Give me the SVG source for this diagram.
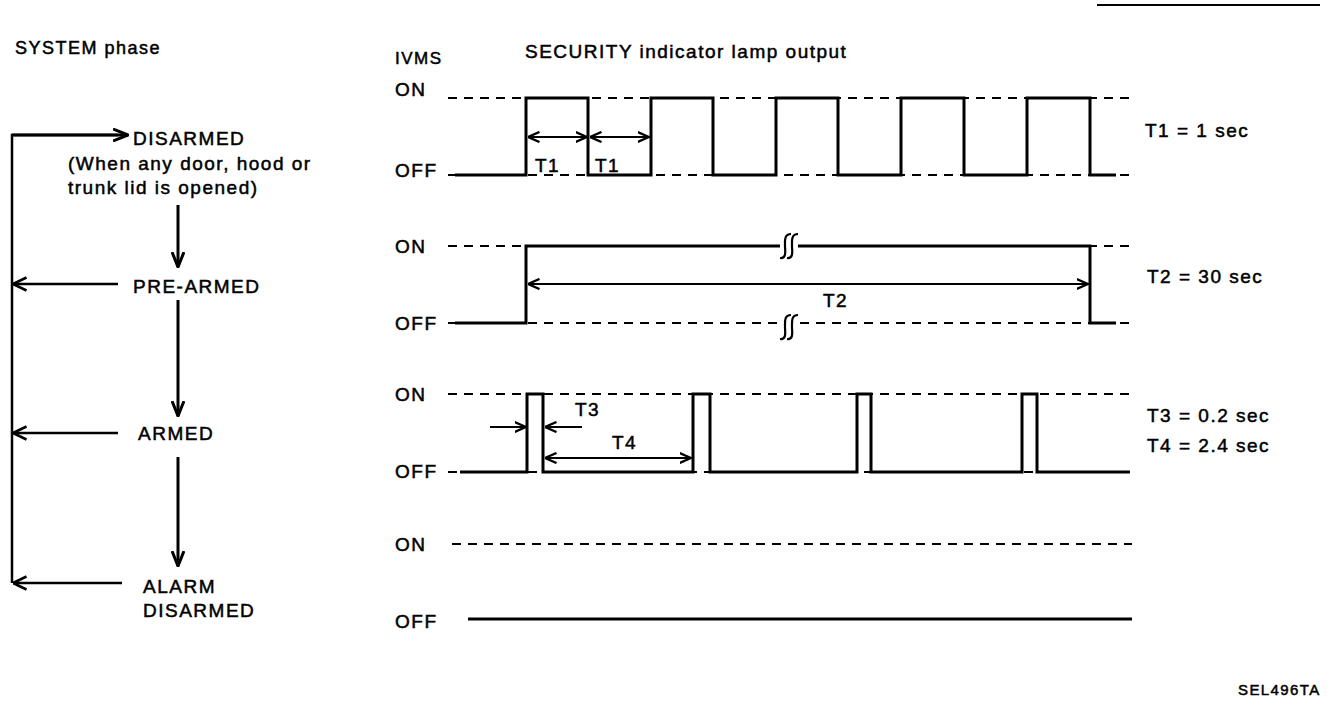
<svg xmlns="http://www.w3.org/2000/svg" width="1344" height="702" viewBox="0 0 1344 702">
<style>
text{font-family:"Liberation Sans",Arial,sans-serif;font-size:19px;letter-spacing:1.5px;fill:#000;stroke:#000;stroke-width:0.5}
.sm{font-size:17px}
.tiny{font-size:15px;letter-spacing:1.4px}
.ln{fill:none;stroke:#000;stroke-width:2.5}
.sig{fill:none;stroke:#000;stroke-width:3;stroke-linejoin:miter}
.dash{fill:none;stroke:#000;stroke-width:2;stroke-dasharray:9 7}
.ar{fill:none;stroke:#000;stroke-width:2.2;marker-end:url(#hd)}
.arB{fill:none;stroke:#000;stroke-width:2.4;marker-end:url(#hdB)}
.ar2{fill:none;stroke:#000;stroke-width:2.2;marker-start:url(#hd);marker-end:url(#hd)}
.arL{fill:none;stroke:#000;stroke-width:3;marker-end:url(#hdL)}
.brk{fill:none;stroke:#000;stroke-width:2.2}
</style>
<defs>
<marker id="hd" viewBox="0 0 12 12" refX="11.5" refY="6" markerWidth="12" markerHeight="12" markerUnits="userSpaceOnUse" orient="auto-start-reverse">
<path d="M0,1 L11.5,6 L0,11" fill="none" stroke="#000" stroke-width="2.4"/>
</marker>
<marker id="hdB" viewBox="0 0 14 16" refX="13.5" refY="8" markerWidth="14" markerHeight="16" markerUnits="userSpaceOnUse" orient="auto-start-reverse">
<path d="M0,1.5 L13.5,8 L0,14.5" fill="none" stroke="#000" stroke-width="2.5"/>
</marker>
<marker id="hdL" viewBox="0 0 16 14" refX="15" refY="7" markerWidth="16" markerHeight="14" markerUnits="userSpaceOnUse" orient="auto-start-reverse">
<path d="M0,1 L15,7 L0,13" fill="none" stroke="#000" stroke-width="3"/>
</marker>
</defs>
<rect width="1344" height="702" fill="#fff"/>
<line x1="1097" y1="5" x2="1320" y2="5" stroke="#000" stroke-width="2"/>
<text x="15" y="54" class="sm" style="font-size:18px">SYSTEM phase</text>

<g id="disarmed">
<text x="133" y="145">DISARMED</text>
<text x="68" y="170">(When any door, hood or</text>
<text x="68" y="194">trunk lid is opened)</text>
</g>
<g id="prearmed"><text x="133" y="293">PRE-ARMED</text></g>
<g id="armed"><text x="138" y="440">ARMED</text></g>
<g id="alarmdisarmed">
<text x="143" y="593">ALARM</text>
<text x="143" y="617">DISARMED</text>
</g>

<g id="connectors">
<path class="ln" d="M12,583 V135 H118"/>
<path class="arL" d="M12,135 H128"/>
<path class="arL" d="M178,205 V267"/>
<path class="arL" d="M178,300 V416"/>
<path class="arL" d="M178,457 V566"/>
<path class="arB" d="M118,284 H13"/>
<path class="arB" d="M118,433 H13"/>
<path class="arB" d="M122,583 H13"/>
</g>

<g id="header">
<text x="395" y="64" class="sm">IVMS</text>
<text x="525" y="58">SECURITY indicator lamp output</text>
</g>

<g id="row1">
<text x="395" y="96">ON</text>
<text x="395" y="177">OFF</text>
<line class="dash" x1="448" y1="98" x2="1132" y2="98"/>
<line class="dash" x1="448" y1="175" x2="1132" y2="175"/>
<path class="sig" d="M455,175 H526 V98 H588 V175 H651 V98 H713 V175 H776 V98 H838 V175 H901 V98 H964 V175 H1027 V98 H1090 V175 H1116"/>
<path class="ar2" d="M528,137 H587"/>
<path class="ar2" d="M590,137 H649"/>
<text x="535" y="172">T1</text>
<text x="595" y="172">T1</text>
<text x="1145" y="137">T1 = 1 sec</text>
</g>

<g id="row2">
<text x="395" y="253">ON</text>
<text x="395" y="330">OFF</text>
<line class="dash" x1="448" y1="246" x2="1132" y2="246"/>
<line class="dash" x1="448" y1="323" x2="1132" y2="323"/>
<path class="sig" d="M455,323 H526 V246 H1090 V323 H1116"/>
<rect x="780" y="240" width="18" height="12" fill="#fff"/>
<rect x="780" y="317" width="18" height="12" fill="#fff"/>
<path class="brk" d="M780,258 C787,259 785,250 785,246 C785,241 784,234 791,234 M787,258 C794,259 792,250 792,246 C792,241 791,234 798,234"/>
<path class="brk" d="M780,339 C787,340 785,331 785,327 C785,322 784,315 791,315 M787,339 C794,340 792,331 792,327 C792,322 791,315 798,315"/>
<path class="ar2" d="M528,284 H1088"/>
<text x="823" y="307">T2</text>
<text x="1147" y="283">T2 = 30 sec</text>
</g>

<g id="row3">
<text x="395" y="401">ON</text>
<text x="395" y="478">OFF</text>
<line class="dash" x1="448" y1="394" x2="1132" y2="394"/>
<line class="dash" x1="448" y1="472" x2="1132" y2="472"/>
<path class="sig" d="M460,472 H527 V394 H543 V472 H693 V394 H710 V472 H857 V394 H871 V472 H1022 V394 H1037 V472 H1130"/>
<path class="ar" d="M490,427 H526"/>
<path class="ar" d="M582,427 H545"/>
<path class="ar2" d="M545,458 H691"/>
<text x="575" y="416">T3</text>
<text x="612" y="449">T4</text>
<text x="1147" y="422">T3 = 0.2 sec</text>
<text x="1147" y="452">T4 = 2.4 sec</text>
</g>

<g id="row4">
<text x="395" y="551">ON</text>
<text x="395" y="628">OFF</text>
<line class="dash" x1="452" y1="544" x2="1132" y2="544"/>
<line x1="468" y1="619" x2="1132" y2="619" stroke="#000" stroke-width="3"/>
</g>

<text x="1238" y="695" class="tiny">SEL496TA</text>
</svg>
